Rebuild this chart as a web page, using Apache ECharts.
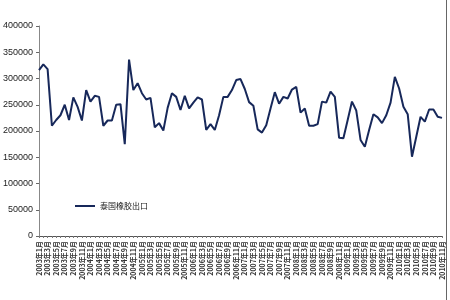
<!DOCTYPE html>
<html><head><meta charset="utf-8">
<script src="https://cdn.jsdelivr.net/npm/echarts@6/dist/echarts.min.js"></script>
<style>html,body{margin:0;padding:0;background:#fff}#c{width:450px;height:300px}</style>
</head><body><div id="c"></div>
<script>
const seriesName = "泰国橡胶出口";
const years = [2003,2004,2005,2006,2007,2008,2009,2010];
const categories = [];
years.forEach(y => { for (let m = 1; m <= 12; m++) { if (y === 2010 && m > 11) break; categories.push(y + "年" + m + "月"); } });
const exportValues = [
316000,327000,318000,210000,221000,230000,250000,221000,264000,246000,220000,278000,
256000,267000,265000,210000,220000,220000,250000,251000,175000,336000,278000,291000,
272000,260000,263000,207000,215000,201000,244000,272000,265000,240000,267000,243000,
254000,264000,260000,202000,213000,202000,230000,265000,265000,278000,297000,299000,
280000,255000,248000,203000,197000,211000,243000,274000,252000,265000,262000,279000,
284000,235000,243000,210000,210000,213000,256000,254000,275000,265000,187000,186000,
221000,256000,239000,183000,170000,202000,232000,226000,215000,230000,254000,303000,
281000,246000,232000,151000,189000,227000,218000,241000,241000,227000,225000
];
const yTicks = [0,50000,100000,150000,200000,250000,300000,350000,400000];
const chart = echarts.init(document.getElementById('c'));
chart.setOption({
  animation:false,
  backgroundColor:'#fff',
  grid:{left:36,right:8,top:26,bottom:64},
  legend:{
    data:[seriesName], left:70, top:197, itemWidth:20, itemHeight:2, itemGap:4,
    icon:'rect',
    textStyle:{fontSize:8,color:'#222',fontFamily:'Noto Sans CJK SC'}
  },
  xAxis:{
    type:'category', data:categories, boundaryGap:false,
    axisLine:{lineStyle:{color:'#555',width:1}},
    axisTick:{show:true,interval:0,length:2,lineStyle:{color:'#777'}},
    axisLabel:{interval:1,rotate:90,fontSize:7,fontWeight:'bold',color:'#333',margin:5,fontFamily:'Noto Sans CJK SC'}
  },
  yAxis:{
    type:'value', min:yTicks[0], max:yTicks[yTicks.length-1], interval:50000,
    splitLine:{show:false},
    axisLine:{show:true,lineStyle:{color:'#888',width:1}},
    axisTick:{show:true,length:3,inside:false,lineStyle:{color:'#666'}},
    axisLabel:{fontSize:9,color:'#222',margin:6,fontFamily:'Liberation Sans',formatter:v => String(v)}
  },
  series:[{
    name:seriesName, type:'line', data:exportValues, showSymbol:false,
    lineStyle:{color:'#17285a',width:2}, itemStyle:{color:'#17285a'}
  }],
  graphic:[{type:'line',shape:{x1:446.5,y1:0,x2:446.5,y2:300},style:{stroke:'#666',lineWidth:1}}]
});
</script></body></html>
